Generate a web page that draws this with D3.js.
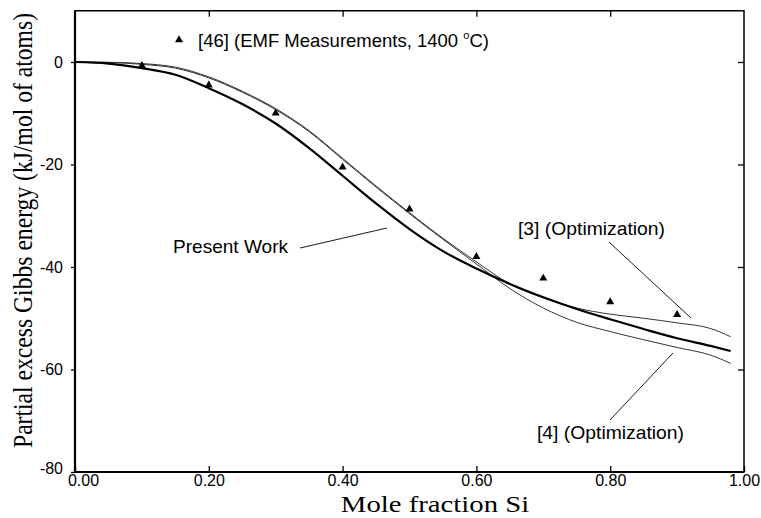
<!DOCTYPE html>
<html>
<head>
<meta charset="utf-8">
<script src="https://cdn.jsdelivr.net/npm/d3@7"></script>
<style>
  body { margin: 0; background: #fff; }
  svg { display: block; }
  .tickLbl { font-family: "Liberation Sans", Arial, sans-serif; font-size: 16px; fill: #000; }
  .note { font-family: "Liberation Sans", Arial, sans-serif; fill: #000; }
  .axisTitle { font-family: "Liberation Serif", "Times New Roman", serif; fill: #000; }
</style>
</head>
<body>
<svg id="chart" width="761" height="518"></svg>
<script>
// axis ticks
const xTicks = [0, 0.2, 0.4, 0.6, 0.8, 1.0];
const yTicks = [-80, -60, -40, -20, 0];

// calculated curves
const molFrac     = [0, 0.05, 0.1, 0.15, 0.2, 0.25, 0.3, 0.35, 0.4, 0.45, 0.5, 0.55, 0.6, 0.65, 0.7, 0.75, 0.8, 0.85, 0.9, 0.95, 0.98];
const presentWork = [0, -0.3, -1.2, -2.5, -5.1, -8.2, -12.0, -16.8, -22.2, -27.6, -32.6, -36.9, -40.3, -43.3, -45.9, -48.2, -50.2, -52.1, -53.9, -55.4, -56.4];
const opt3        = [0, -0.05, -0.3, -1.0, -2.9, -5.7, -9.1, -13.4, -18.8, -24.2, -29.4, -34.4, -39.0, -43.3, -46.0, -48.0, -49.2, -50.0, -50.9, -52.0, -53.6];
const opt4        = [0, -0.1, -0.45, -1.2, -3.1, -5.9, -9.3, -13.6, -19.0, -24.4, -29.6, -34.6, -39.4, -44.2, -48.0, -50.8, -52.6, -54.2, -55.7, -57.2, -58.8];

// [46] EMF measurements
const emfX = [0.1, 0.2, 0.3, 0.4, 0.5, 0.6, 0.7, 0.8, 0.9];
const emfY = [-0.7, -4.5, -10.0, -20.5, -28.7, -38.0, -42.2, -46.8, -49.3];

const pLeft = 75, pRight = 744, pTop = 10.75, pBottom = 472;

const svg = d3.select("#chart");

const xScale = d3.scaleLinear().domain([0, 1]).range([pLeft, pRight]);
const yScale = d3.scaleLinear().domain([-80, 10]).range([pBottom, pTop]);

// frame
svg.append("rect")
    .attr("x", pLeft).attr("y", pTop)
    .attr("width", pRight - pLeft).attr("height", pBottom - pTop)
    .attr("fill", "none").attr("stroke", "#000").attr("stroke-width", 1.5);

// bottom axis with labels
const gx = svg.append("g")
    .attr("transform", `translate(0, ${pBottom})`)
    .call(d3.axisBottom(xScale).tickValues(xTicks).tickFormat(d3.format(".2f"))
        .tickSizeInner(-6).tickSizeOuter(0).tickPadding(3));
gx.attr("font-size", null).attr("font-family", null);
gx.selectAll("text").attr("class", "tickLbl");
gx.selectAll(".tick").filter(d => d === 0).select("text").attr("dx", 8);

// left axis with labels
const gy = svg.append("g")
    .attr("transform", `translate(${pLeft}, 0)`)
    .call(d3.axisLeft(yScale).tickValues(yTicks).tickFormat(d => String(d))
        .tickSizeInner(4).tickSizeOuter(0).tickPadding(8));
gy.attr("font-size", null).attr("font-family", null);
gy.selectAll("text").attr("class", "tickLbl");
gy.selectAll(".tick").filter(d => d === -80).select("text").attr("dy", "0.1em");

// top and right: ticks only
svg.append("g")
    .attr("transform", `translate(0, ${pTop})`)
    .call(d3.axisTop(xScale).tickValues(xTicks.slice(1, -1)).tickFormat("")
        .tickSizeInner(-6).tickSizeOuter(0));
svg.append("g")
    .attr("transform", `translate(${pRight}, 0)`)
    .call(d3.axisRight(yScale).tickValues(yTicks.slice(1)).tickFormat("")
        .tickSizeInner(-6).tickSizeOuter(0));

svg.selectAll(".domain").remove();
svg.selectAll(".tick line").attr("stroke", "#000").attr("stroke-width", 1.3);

// thicker left and bottom border
svg.append("line").attr("x1", pLeft).attr("x2", pLeft).attr("y1", pTop).attr("y2", pBottom)
    .attr("stroke", "#000").attr("stroke-width", 2.2);
svg.append("line").attr("x1", pLeft).attr("x2", pRight).attr("y1", pBottom).attr("y2", pBottom)
    .attr("stroke", "#000").attr("stroke-width", 2.2);

// curves
const line = d3.line()
    .x((d, i) => xScale(molFrac[i]))
    .y(d => yScale(d))
    .curve(d3.curveMonotoneX);

svg.append("path").datum(opt3)
    .attr("d", line).attr("fill", "none").attr("stroke", "#333").attr("stroke-width", 1);
svg.append("path").datum(opt4)
    .attr("d", line).attr("fill", "none").attr("stroke", "#333").attr("stroke-width", 1);
svg.append("path").datum(presentWork)
    .attr("d", line).attr("fill", "none").attr("stroke", "#000").attr("stroke-width", 2.2);

// measurement points
const tri = d3.symbol(d3.symbolTriangle, 28);
svg.append("g")
    .selectAll("path")
    .data(emfX)
    .enter()
    .append("path")
    .attr("d", tri)
    .attr("transform", (d, i) => `translate(${xScale(d)}, ${yScale(emfY[i])})`)
    .attr("fill", "#000");

// legend
svg.append("path").attr("d", tri).attr("transform", "translate(179, 40)").attr("fill", "#000");
const leg = svg.append("text").attr("class", "note").attr("x", 198).attr("y", 47).attr("font-size", 18.5);
leg.append("tspan").text("[46] (EMF Measurements, 1400 ");
leg.append("tspan").attr("font-size", 11).attr("dy", -8).text("o");
leg.append("tspan").attr("dy", 8).text("C)");

// annotations with leader lines
function note (txt, x, y, len, size) {
    svg.append("text").attr("class", "note")
        .attr("x", x).attr("y", y).attr("font-size", size)
        .attr("textLength", len).attr("lengthAdjust", "spacingAndGlyphs")
        .text(txt);
}
function leader (x1, y1, x2, y2) {
    svg.append("line").attr("x1", x1).attr("y1", y1).attr("x2", x2).attr("y2", y2)
        .attr("stroke", "#000").attr("stroke-width", 0.9);
}
note("Present Work", 173, 253, 115, 18.5);
leader(300, 248, 387, 228);
note("[3] (Optimization)", 518, 235, 147, 19);
leader(609, 242, 691, 318);
note("[4] (Optimization)", 537, 439, 147, 19);
leader(610, 420, 673, 353);

// axis titles (serif, a bit stretched across like the scan)
svg.append("text").attr("class", "axisTitle")
    .attr("transform", "translate(435, 512) scale(1.25, 1)")
    .attr("text-anchor", "middle").attr("font-size", 23)
    .text("Mole fraction Si");
svg.append("text").attr("class", "axisTitle")
    .attr("transform", "translate(31.5, 230.5) rotate(-90) scale(1, 1.2)")
    .attr("text-anchor", "middle").attr("font-size", 23.5)
    .attr("textLength", 435).attr("lengthAdjust", "spacingAndGlyphs")
    .text("Partial excess Gibbs energy (kJ/mol of atoms)");
</script>
</body>
</html>
